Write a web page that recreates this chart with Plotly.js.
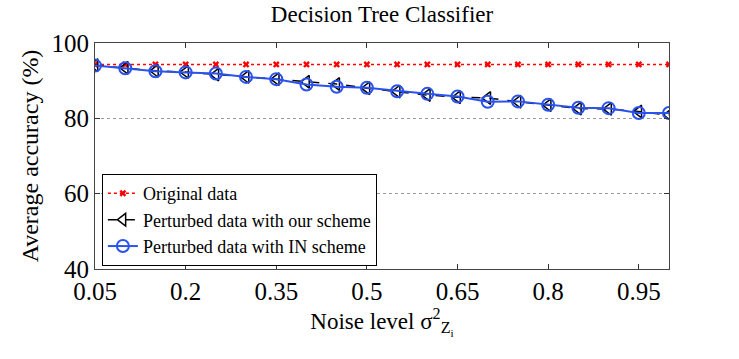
<!DOCTYPE html>
<html>
<head>
<meta charset="utf-8">
<script src="https://cdn.plot.ly/plotly-3.0.1.min.js"></script>
<style>
  body { margin: 0; background: #fff; }
  #chartplot { width: 739px; height: 359px; }
</style>
</head>
<body>
<div id="chartplot"></div>
<script>
// noise levels 0.05 .. 1.0
const noise = [0.05, 0.10, 0.15, 0.20, 0.25, 0.30, 0.35, 0.40, 0.45, 0.50,
               0.55, 0.60, 0.65, 0.70, 0.75, 0.80, 0.85, 0.90, 0.95, 1.00];

const originalAcc = [94.3, 94.3, 94.3, 94.3, 94.3, 94.3, 94.3, 94.3, 94.3, 94.3,
                     94.3, 94.3, 94.3, 94.3, 94.3, 94.3, 94.3, 94.3, 94.3, 94.3];

const ourSchemeAcc = [94.1, 93.4, 92.6, 92.3, 91.6, 91.0, 90.4, 89.7, 89.1, 88.0,
                      87.1, 86.2, 85.6, 85.4, 84.4, 83.5, 82.6, 82.5, 81.8, 80.9];

const inSchemeAcc = [94.0, 93.3, 92.5, 92.2, 91.9, 91.0, 90.4, 89.0, 88.4, 88.1,
                     87.2, 86.5, 85.8, 84.4, 84.5, 83.6, 82.8, 82.7, 81.4, 81.4];

const xTicks = [0.05, 0.2, 0.35, 0.5, 0.65, 0.8, 0.95];
const xTickText = ['0.05', '0.2', '0.35', '0.5', '0.65', '0.8', '0.95'];
const yTicks = [40, 60, 80, 100];

const serif = 'Liberation Serif';

const data = [
  {
    type: 'scatter', mode: 'lines+markers', name: 'Original data',
    x: noise, y: originalAcc,
    line: { color: '#ff0000', width: 1.5, dash: 'dot' },
    marker: { symbol: 'x', size: 6, color: '#ff0000' },
  },
  {
    type: 'scatter', mode: 'lines+markers', name: 'Perturbed data with our scheme',
    x: noise, y: ourSchemeAcc,
    line: { color: '#000000', width: 1.5, dash: 'dash' },
    marker: { symbol: 'triangle-left-open', size: 11, color: '#000000', line: { width: 1.5 } },
  },
  {
    type: 'scatter', mode: 'lines+markers', name: 'Perturbed data with IN scheme',
    x: noise, y: inSchemeAcc,
    line: { color: '#2a52ee', width: 2 },
    marker: { symbol: 'circle-open', size: 12, color: '#2a52ee', line: { width: 2 } },
  },
];

const layout = {
  width: 739, height: 359,
  margin: { l: 95, r: 70, t: 43, b: 90 },
  paper_bgcolor: '#fff', plot_bgcolor: '#fff',
  font: { family: serif, color: '#000' },
  title: {
    text: 'Decision Tree Classifier',
    font: { size: 23, family: serif, color: '#000' },
    xref: 'paper', x: 0.5, xanchor: 'center',
    yref: 'container', y: 0.962, yanchor: 'middle',
  },
  xaxis: {
    range: [0.05, 1.0],
    tickvals: xTicks, ticktext: xTickText,
    ticks: 'inside', ticklen: 5, tickcolor: '#333',
    showline: true, linecolor: '#444', linewidth: 1, mirror: 'ticks',
    showgrid: false, zeroline: false,
    tickfont: { size: 25, family: serif, color: '#000' },
    title: {
      text: 'Noise level σ<sup>2</sup><sub>Z<sub>i</sub></sub>',
      font: { size: 23, family: serif, color: '#000' },
      standoff: 2,
    },
  },
  yaxis: {
    range: [40, 100],
    tickvals: yTicks,
    ticks: 'inside', ticklen: 5, tickcolor: '#333',
    showline: true, linecolor: '#444', linewidth: 1, mirror: 'ticks',
    showgrid: true, gridcolor: '#9a9a9a', griddash: 'dot', gridwidth: 1,
    zeroline: false,
    tickfont: { size: 25, family: serif, color: '#000' },
    title: {
      text: 'Average accuracy (%)',
      font: { size: 24, family: serif, color: '#000' },
      standoff: 6,
    },
  },
  showlegend: true,
  legend: {
    x: 0.012, xanchor: 'left',
    y: 0.013, yanchor: 'bottom',
    bgcolor: '#fff', bordercolor: '#000', borderwidth: 1,
    font: { size: 18, family: serif, color: '#000' },
    tracegroupgap: 0,
  },
};

Plotly.newPlot('chartplot', data, layout, { staticPlot: true });
</script>
</body>
</html>
